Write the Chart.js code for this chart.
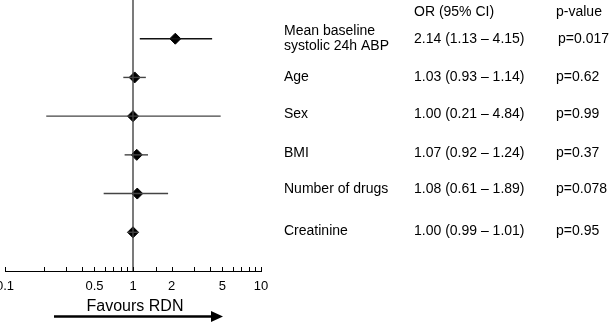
<!DOCTYPE html>
<html>
<head>
<meta charset="utf-8">
<title>Forest plot</title>
<script src="https://cdn.jsdelivr.net/npm/chart.js@4.4.1/dist/chart.umd.min.js"></script>
<style>
  html, body { margin: 0; padding: 0; background: #fff; }
  #wrap { position: relative; width: 609px; height: 322px; }
</style>
</head>
<body>
<div id="wrap"><canvas id="forestChart" width="609" height="322"></canvas></div>
<script>
        // Chart data
        const rowLabels = [['Mean baseline', 'systolic 24h ABP'], ['Age'], ['Sex'], ['BMI'], ['Number of drugs'], ['Creatinine']];
        const oddsRatios = [2.14, 1.03, 1.00, 1.07, 1.08, 1.00];
        // whisker ends as drawn in the figure
        const ciLow = [1.13, 0.84, 0.21, 0.86, 0.59, 0.91];
        const ciHigh = [4.15, 1.26, 4.84, 1.31, 1.88, 1.10];
        const orText = ['2.14 (1.13 \u2013 4.15)', '1.03 (0.93 \u2013 1.14)', '1.00 (0.21 \u2013 4.84)',
                        '1.07 (0.92 \u2013 1.24)', '1.08 (0.61 \u2013 1.89)', '1.00 (0.99 \u2013 1.01)'];
        const pText = ['p=0.017', 'p=0.62', 'p=0.99', 'p=0.37', 'p=0.078', 'p=0.95'];
        const tickLabels = [0.1, 0.5, 1, 2, 5, 10];
        const axisTitle = 'Favours RDN';

        // layout of the text table on the right
        const FONT = '"Liberation Sans", Arial, sans-serif';
        const textRowY = [39, 77, 114, 153, 189, 231];
        const colX = { label: 284, or: 414, p: 556 };

        const ctx = document.getElementById('forestChart').getContext('2d');

        const datasets = [];

        // line of no effect (OR = 1)
        datasets.push({
            data: [{ x: 1, y: 0 }, { x: 1, y: 7 }],
            showLine: true,
            borderColor: '#444',
            borderWidth: 1.4,
            pointRadius: 0
        });

        // confidence interval whiskers
        ciLow.forEach((lo, i) => {
            datasets.push({
                data: [{ x: lo, y: i + 1 }, { x: ciHigh[i], y: i + 1 }],
                showLine: true,
                borderColor: i === 0 ? '#111' : '#444',
                borderWidth: 1.4,
                pointRadius: 0
            });
        });

        // point estimates
        datasets.push({
            data: oddsRatios.map((v, i) => ({ x: v, y: i + 1 })),
            showLine: false,
            pointStyle: 'rectRot',
            pointRadius: 5.5,
            backgroundColor: '#000',
            borderColor: '#000',
            borderWidth: 1
        });

        /**
         * Draws tick marks above the axis, the axis caption with arrow,
         * and the OR / p-value table.
         */
        const extrasPlugin = {
            id: 'extras',
            afterDraw(chart) {
                const c = chart.ctx;
                const xs = chart.scales.x;
                c.save();

                // tick marks pointing up into the plot
                c.strokeStyle = '#000';
                c.lineWidth = 1;
                c.beginPath();
                xs.ticks.forEach(t => {
                    const px = Math.round(xs.getPixelForValue(t.value)) + 0.5;
                    c.moveTo(px, xs.top);
                    c.lineTo(px, xs.top - 4);
                });
                c.stroke();

                // caption and arrow
                c.fillStyle = '#000';
                c.font = '16px ' + FONT;
                c.textAlign = 'center';
                c.textBaseline = 'middle';
                c.fillText(axisTitle, (xs.left + xs.right) / 2 + 2, 307);

                c.lineWidth = 2.5;
                c.beginPath();
                c.moveTo(54, 316.5);
                c.lineTo(213, 316.5);
                c.stroke();
                c.beginPath();
                c.moveTo(223, 316.5);
                c.lineTo(211, 311);
                c.lineTo(211, 322);
                c.closePath();
                c.fill();

                // table
                c.font = '14px ' + FONT;
                c.textAlign = 'left';
                c.fillText('OR (95% CI)', colX.or, 12);
                c.fillText('p-value', colX.p, 12);
                rowLabels.forEach((lines, i) => {
                    const y = textRowY[i];
                    if (lines.length === 2) {
                        c.fillText(lines[0], colX.label, y - 8);
                        c.fillText(lines[1], colX.label, y + 7);
                    } else {
                        c.fillText(lines[0], colX.label, y);
                    }
                    c.fillText(orText[i], colX.or, y);
                    c.fillText(pText[i], colX.p + (i === 0 ? 2 : 0), y);
                });

                c.restore();
            }
        };

        const forestChart = new Chart(ctx, {
            type: 'scatter',
            data: { datasets: datasets },
            options: {
                responsive: false,
                animation: false,
                devicePixelRatio: 1,
                layout: {
                    autoPadding: false,
                    padding: { left: 5, right: 348, top: 0, bottom: 0 }
                },
                plugins: {
                    legend: { display: false },
                    tooltip: { enabled: false }
                },
                scales: {
                    x: {
                        type: 'logarithmic',
                        position: 'bottom',
                        min: 0.1,
                        max: 10,
                        grid: { display: false, drawTicks: false },
                        border: { display: true, color: '#000', width: 1 },
                        ticks: {
                            color: '#000',
                            font: { family: FONT, size: 13 },
                            padding: 8,
                            autoSkip: false,
                            maxRotation: 0,
                            callback: (value) => {
                                const hit = tickLabels.find(t => Math.abs(t - value) < 1e-6);
                                return hit !== undefined ? String(hit) : '';
                            }
                        },
                        afterFit: (scale) => {
                            scale.height = 51;
                            scale.paddingLeft = 0;
                            scale.paddingRight = 0;
                        }
                    },
                    y: {
                        type: 'linear',
                        display: false,
                        reverse: true,
                        min: 0,
                        max: 7
                    }
                }
            },
            plugins: [extrasPlugin]
        });
</script>
</body>
</html>
